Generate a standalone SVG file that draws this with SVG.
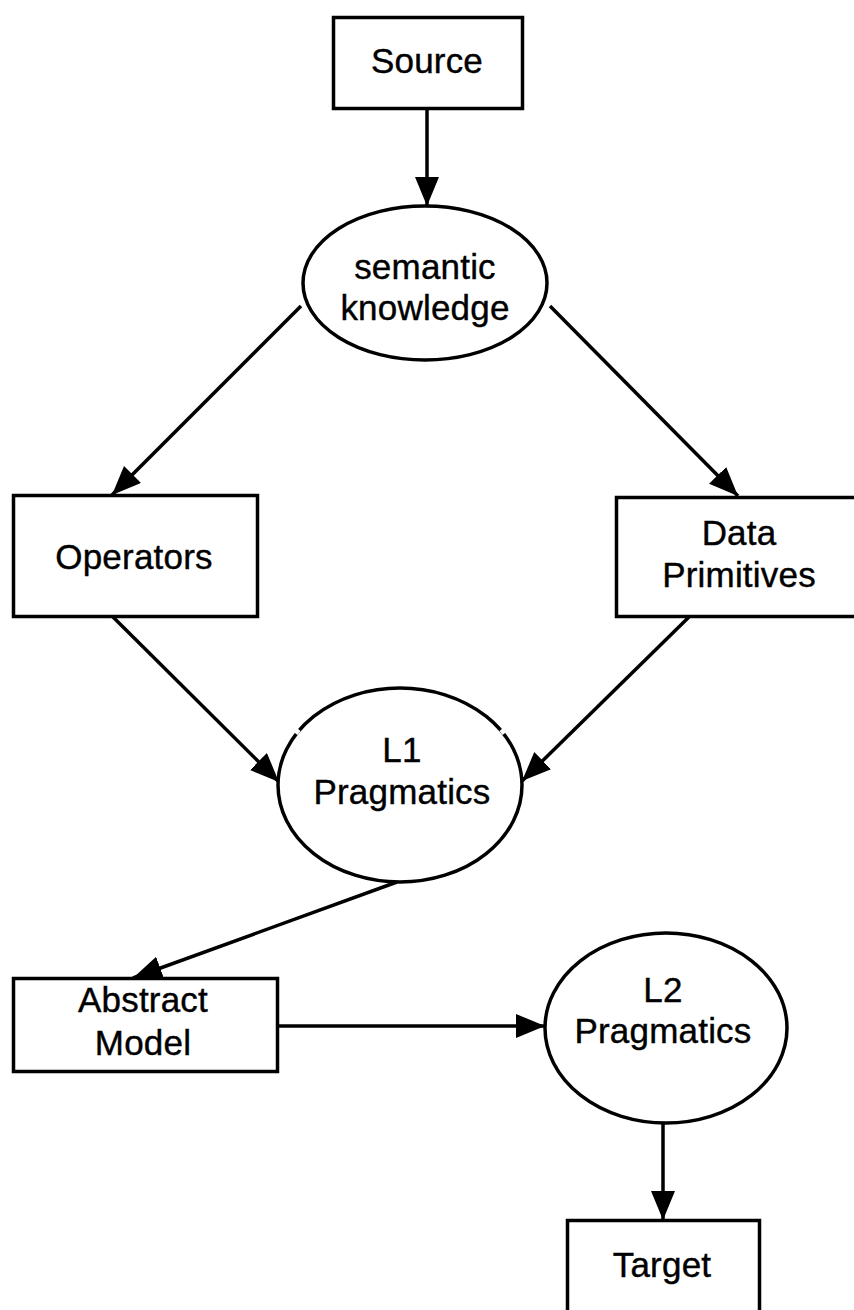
<svg xmlns="http://www.w3.org/2000/svg" width="854" height="1310" viewBox="0 0 854 1310">
  <style>
    .box { fill: #ffffff; stroke: #000000; stroke-width: 3.5; }
    .oval { fill: #ffffff; stroke: #000000; stroke-width: 3.5; }
    .lbl { font-family: "Liberation Sans", Arial, Helvetica, sans-serif; font-size: 35px; fill: #000000; stroke: #000000; stroke-width: 0.4; text-anchor: middle; letter-spacing: 0.2px; }
    .edge { fill: none; stroke: #000000; stroke-width: 3.5; marker-end: url(#head); }
    .nick { stroke: #ffffff; stroke-width: 5; }
  </style>
  <defs>
    <marker id="head" markerUnits="userSpaceOnUse" markerWidth="32" markerHeight="26" refX="29" refY="12" orient="auto">
      <path d="M0,0 L29,12 L0,24 Z" fill="#000000"/>
    </marker>
  </defs>

  <rect width="854" height="1310" fill="#ffffff"/>

  <g id="connectors">
    <line class="edge" x1="427" y1="108" x2="427" y2="206"/>
    <line class="edge" x1="301" y1="306" x2="112" y2="495"/>
    <line class="edge" x1="550" y1="306" x2="738" y2="496"/>
    <line class="edge" x1="113" y1="617" x2="279" y2="782"/>
    <line class="edge" x1="689" y1="617" x2="522" y2="781"/>
    <line class="edge" x1="397" y1="882" x2="133" y2="978"/>
    <line class="edge" x1="278" y1="1026" x2="545" y2="1026"/>
    <line class="edge" x1="663" y1="1123" x2="663" y2="1220"/>
  </g>

  <g id="source">
    <rect class="box" x="333.5" y="17.5" width="189" height="91"/>
    <text class="lbl" x="427" y="73">Source</text>
  </g>

  <g id="semantic-knowledge">
    <ellipse class="oval" cx="425" cy="283" rx="122" ry="77"/>
    <text class="lbl" x="425" y="279">semantic</text>
    <text class="lbl" x="425" y="320">knowledge</text>
  </g>

  <g id="operators">
    <rect class="box" x="13.5" y="495.5" width="244" height="121"/>
    <text class="lbl" x="134" y="569">Operators</text>
  </g>

  <g id="data-primitives">
    <rect class="box" x="616.5" y="497.5" width="240" height="119"/>
    <text class="lbl" x="739" y="545">Data</text>
    <text class="lbl" x="739" y="587">Primitives</text>
  </g>

  <g id="l1-pragmatics">
    <ellipse class="oval" cx="400" cy="785" rx="122" ry="97"/>
    <line class="nick" x1="294" y1="729" x2="299" y2="733"/>
    <line class="nick" x1="501" y1="733" x2="506" y2="729"/>
    <text class="lbl" x="402" y="762">L1</text>
    <text class="lbl" x="402" y="804">Pragmatics</text>
  </g>

  <g id="abstract-model">
    <rect class="box" x="13.5" y="978.5" width="264" height="93"/>
    <text class="lbl" x="143" y="1012">Abstract</text>
    <text class="lbl" x="143" y="1055">Model</text>
  </g>

  <g id="l2-pragmatics">
    <ellipse class="oval" cx="666" cy="1028" rx="121" ry="95"/>
    <line class="nick" x1="560" y1="967" x2="565" y2="971"/>
    <line class="nick" x1="766" y1="971" x2="771" y2="967"/>
    <text class="lbl" x="663" y="1002">L2</text>
    <text class="lbl" x="663" y="1043">Pragmatics</text>
  </g>

  <g id="target">
    <rect class="box" x="567.5" y="1220.5" width="192" height="100"/>
    <text class="lbl" x="662" y="1277">Target</text>
  </g>
</svg>
